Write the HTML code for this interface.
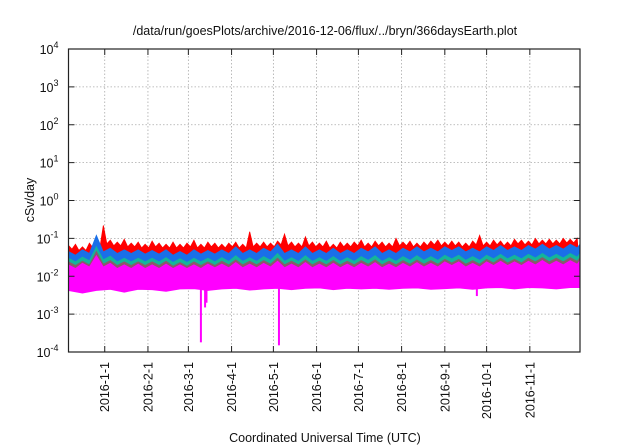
<!DOCTYPE html>
<html><head><meta charset="utf-8"><style>
html,body{margin:0;padding:0;background:#fff;}
svg{display:block;font-family:"Liberation Sans",sans-serif;}
</style></head><body>
<svg id="chart" width="640" height="448" viewBox="0 0 640 448" xmlns="http://www.w3.org/2000/svg">
<text x="325" y="35" font-size="12.5" text-anchor="middle" fill="#111">/data/run/goesPlots/archive/2016-12-06/flux/../bryn/366daysEarth.plot</text>
<text x="0" y="0" transform="translate(34,200) rotate(-90)" font-size="12.5" text-anchor="middle" fill="#111">cSv/day</text>
<text x="325" y="442" font-size="12.5" text-anchor="middle" fill="#111">Coordinated Universal Time (UTC)</text>
<g id="grid"></g><g id="series"></g><g id="axes"></g>
</svg>
<script>
// ---- data ----
const yTickExps = [-4,-3,-2,-1,0,1,2,3,4];
const monthLabels = ["2016-1-1","2016-2-1","2016-3-1","2016-4-1","2016-5-1","2016-6-1","2016-7-1","2016-8-1","2016-9-1","2016-10-1","2016-11-1"];
const monthDays = [26,57,86,117,147,178,208,239,270,300,331]; // days since 2015-12-06
const redDays5 = 5;
const redTop = [0.065,0.07,0.06,0.075,0.07,0.22,0.09,0.08,0.095,0.075,0.08,0.07,0.085,0.075,0.07,0.08,0.07,0.075,0.09,0.07,0.08,0.075,0.07,0.075,0.08,0.07,0.15,0.075,0.08,0.075,0.085,0.13,0.08,0.075,0.11,0.08,0.075,0.085,0.07,0.08,0.075,0.08,0.09,0.075,0.085,0.08,0.075,0.1,0.08,0.085,0.075,0.08,0.085,0.09,0.08,0.085,0.08,0.075,0.085,0.12,0.08,0.09,0.085,0.08,0.095,0.09,0.085,0.1,0.09,0.095,0.09,0.1,0.095,0.1];
const blueTop = [0.045,0.05,0.12,0.055,0.05,0.05,0.048,0.05,0.045,0.05,0.048,0.05,0.06,0.05,0.055,0.07,0.05,0.06,0.05,0.055,0.05,0.055,0.06,0.05,0.055,0.06,0.055,0.06,0.06,0.055,0.06,0.065,0.06,0.065,0.07,0.065,0.07,0.07];
const greenTop = [0.03,0.032,0.06,0.034,0.03,0.03,0.03,0.031,0.029,0.03,0.03,0.031,0.035,0.031,0.033,0.04,0.031,0.035,0.031,0.033,0.031,0.033,0.035,0.031,0.033,0.035,0.033,0.036,0.036,0.033,0.036,0.038,0.036,0.038,0.04,0.038,0.04,0.04];
const grayTop = [0.024,0.025,0.045,0.026,0.024,0.024,0.024,0.025,0.023,0.024,0.024,0.025,0.027,0.025,0.026,0.03,0.025,0.027,0.025,0.026,0.025,0.026,0.027,0.025,0.026,0.027,0.026,0.028,0.028,0.026,0.028,0.03,0.028,0.03,0.031,0.03,0.031,0.031];
const magentaTop = [0.02,0.022,0.035,0.022,0.02,0.021,0.02,0.021,0.02,0.02,0.021,0.021,0.023,0.021,0.022,0.025,0.021,0.023,0.021,0.022,0.021,0.022,0.023,0.021,0.022,0.023,0.022,0.024,0.024,0.022,0.024,0.025,0.024,0.025,0.026,0.025,0.026,0.026];
const magentaBottom = [0.0042,0.0036,0.0042,0.0045,0.0038,0.0045,0.0044,0.004,0.0046,0.0047,0.0042,0.0046,0.0048,0.0043,0.0046,0.0048,0.0044,0.0048,0.0049,0.0044,0.0048,0.0046,0.0048,0.0045,0.0048,0.0049,0.0045,0.0047,0.0049,0.0045,0.0049,0.005,0.0046,0.005,0.0049,0.0046,0.005,0.005];
const dipDays = [95,98,99,151,293];
const dipValues = [0.00018,0.0015,0.002,0.00015,0.003];
// ---- layout ----
const L=68.5,R=580,T=49,B=352,NDAYS=367;
const xs=d=>L+(R-L)*d/NDAYS;
const ys=v=>B-(B-T)*(Math.log10(v)+4)/8;
const NS="http://www.w3.org/2000/svg";
function mk(tag,parent,attrs){const e=document.createElementNS(NS,tag);for(const k in attrs)e.setAttribute(k,attrs[k]);parent.appendChild(e);return e;}
const grid=document.getElementById('grid'),ser=document.getElementById('series'),axes=document.getElementById('axes');
yTickExps.forEach(e=>{const y=ys(Math.pow(10,e));
 if(e>-4&&e<4){const g=mk('line',grid,{x1:L,x2:R,y1:y,y2:y,stroke:'#aaa','stroke-width':0.8,'stroke-dasharray':'1.5,2'});
 
 }
 const t=mk('text',axes,{x:L-10,y:y+5,'font-size':12.5,'text-anchor':'end',fill:'#111'});
 
 
 t.textContent='10';const s=mk('tspan',t,{dy:-6,'font-size':9});s.textContent=String(e);
 mk('line',axes,{x1:L,x2:L+6,y1:y,y2:y,stroke:'#222','stroke-width':1});
 mk('line',axes,{x1:R,x2:R-6,y1:y,y2:y,stroke:'#222','stroke-width':1});
});
monthDays.forEach((d,i)=>{const x=xs(d);
 const g=mk('line',grid,{x1:x,x2:x,y1:T,y2:B,stroke:'#aaa','stroke-width':0.8,'stroke-dasharray':'1.5,2'});
 
 
 mk('line',axes,{x1:x,x2:x,y1:B,y2:B-6,stroke:'#222','stroke-width':1});
 mk('line',axes,{x1:x,x2:x,y1:T,y2:T+6,stroke:'#222','stroke-width':1});
 const t=mk('text',axes,{x:0,y:0,transform:`translate(${x+4.5},${B+10}) rotate(-90)`,'font-size':12.5,'text-anchor':'end',fill:'#111'});
 
 
 t.textContent=monthLabels[i];
});
function spiky(arr,step,lowArr,lowStep,color,name){
 let top=[],n=arr.length;
 for(let i=0;i<n;i++){const d=Math.min(i*step,NDAYS);
  top.push([xs(d),ys(arr[i])]);
  if(i<n-1){const dm=Math.min(i*step+step/2,NDAYS);top.push([xs(dm),ys(Math.min(arr[i],arr[i+1])*0.8)]);}}
 let pts=top.map(p=>p.join(',')).join(' ');
 let bot;
 if(lowArr){bot=[];for(let i=lowArr.length-1;i>=0;i--){bot.push([xs(Math.min(i*lowStep,NDAYS)),ys(lowArr[i])]);}}
 else bot=[[xs(NDAYS),ys(0.01)],[xs(0),ys(0.01)]];
 pts+=' '+bot.map(p=>p.join(',')).join(' ');
 const p=mk('polygon',ser,{points:pts,fill:color,stroke:color,'stroke-width':0.8,'stroke-linejoin':'miter'});
 
 
}
spiky(redTop,redDays5,null,0,'#ff0000','series-red');
spiky(blueTop,10,null,0,'#1a6fe8','series-blue');
spiky(greenTop,10,null,0,'#14b59a','series-green');
spiky(grayTop,10,null,0,'#8a5a6a','series-brown');
spiky(magentaTop,10,magentaBottom,10,'#ff00ff','series-magenta');
dipDays.forEach((d,i)=>{const x=xs(d);
 const l=mk('line',ser,{x1:x,x2:x,y1:ys(0.005),y2:ys(dipValues[i]),stroke:'#ff00ff','stroke-width':2});
 
 
});
const fr=mk('rect',axes,{x:L,y:T,width:R-L,height:B-T,fill:'none',stroke:'#222','stroke-width':1.2});


</script>
</body></html>
